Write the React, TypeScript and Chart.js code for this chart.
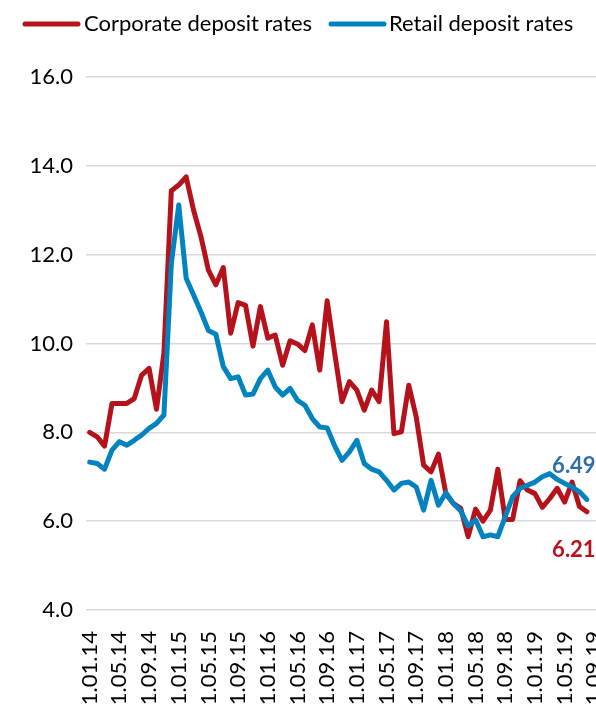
import React, { useEffect, useRef } from 'react';
import { Chart, registerables } from 'chart.js';

Chart.register(...registerables);

const categories = [
  '1.01.14', '1.02.14', '1.03.14', '1.04.14', '1.05.14', '1.06.14', '1.07.14', '1.08.14', '1.09.14', '1.10.14', '1.11.14', '1.12.14',
  '1.01.15', '1.02.15', '1.03.15', '1.04.15', '1.05.15', '1.06.15', '1.07.15', '1.08.15', '1.09.15', '1.10.15', '1.11.15', '1.12.15',
  '1.01.16', '1.02.16', '1.03.16', '1.04.16', '1.05.16', '1.06.16', '1.07.16', '1.08.16', '1.09.16', '1.10.16', '1.11.16', '1.12.16',
  '1.01.17', '1.02.17', '1.03.17', '1.04.17', '1.05.17', '1.06.17', '1.07.17', '1.08.17', '1.09.17', '1.10.17', '1.11.17', '1.12.17',
  '1.01.18', '1.02.18', '1.03.18', '1.04.18', '1.05.18', '1.06.18', '1.07.18', '1.08.18', '1.09.18', '1.10.18', '1.11.18', '1.12.18',
  '1.01.19', '1.02.19', '1.03.19', '1.04.19', '1.05.19', '1.06.19', '1.07.19', '1.08.19', '1.09.19',
];

const corporateRates = [
  8.0, 7.9, 7.69, 8.65, 8.65, 8.65, 8.76, 9.29, 9.44, 8.52,
  9.78, 13.44, 13.57, 13.75, 13.0, 12.4, 11.65, 11.32, 11.71, 10.23,
  10.92, 10.86, 9.94, 10.83, 10.12, 10.19, 9.51, 10.06, 9.99, 9.84,
  10.42, 9.4, 10.96, 9.8, 8.69, 9.14, 8.95, 8.5, 8.95, 8.69,
  10.49, 7.97, 8.01, 9.06, 8.35, 7.26, 7.11, 7.51, 6.62, 6.4,
  6.29, 5.65, 6.27, 6.0, 6.25, 7.17, 6.04, 6.04, 6.91, 6.7,
  6.62, 6.31, 6.51, 6.74, 6.43, 6.88, 6.33, 6.21, null,
];

const retailRates = [
  7.33, 7.3, 7.17, 7.6, 7.79, 7.71, 7.82, 7.94, 8.09, 8.2,
  8.39, 11.8, 13.12, 11.47, 11.09, 10.71, 10.29, 10.21, 9.48, 9.21,
  9.25, 8.84, 8.86, 9.21, 9.4, 9.02, 8.84, 8.99, 8.72, 8.61,
  8.31, 8.12, 8.1, 7.7, 7.37, 7.56, 7.82, 7.3, 7.17, 7.11,
  6.92, 6.7, 6.85, 6.88, 6.77, 6.25, 6.92, 6.36, 6.64, 6.4,
  6.23, 5.89, 6.03, 5.65, 5.69, 5.65, 6.1, 6.55, 6.74, 6.81,
  6.88, 7.0, 7.07, 6.94, 6.85, 6.77, 6.66, 6.49, null,
];

const seriesNames = ['Corporate deposit rates', 'Retail deposit rates'];
const yMin = 4;
const yMax = 16;
const yStep = 2;

const RED = '#B5121B';
const BLUE = '#0083BE';
const BLUE_LABEL = '#2E6EA6';
const FONT = 'Lato';

function lastIndex(arr: (number | null)[]) {
  for (let i = arr.length - 1; i >= 0; i--) if (arr[i] !== null) return i;
  return -1;
}

export default function App() {
  const ref = useRef<HTMLCanvasElement>(null);

  useEffect(() => {
    const canvas = ref.current!;

    const legendPlugin = {
      id: 'customLegend',
      afterDraw(chart: any) {
        const ctx = chart.ctx;
        ctx.save();
        ctx.font = `22px ${FONT}`;
        ctx.textBaseline = 'alphabetic';
        ctx.textAlign = 'left';
        ctx.lineCap = 'round';
        ctx.lineWidth = 5;
        const items = [
          { name: seriesNames[0], color: RED, x0: 25, x1: 78, tx: 84 },
          { name: seriesNames[1], color: BLUE, x0: 331, x1: 384, tx: 389 },
        ];
        const ly = 24;
        for (const it of items) {
          ctx.strokeStyle = it.color;
          ctx.beginPath();
          ctx.moveTo(it.x0, ly);
          ctx.lineTo(it.x1, ly);
          ctx.stroke();
          ctx.fillStyle = '#000';
          ctx.fillText(it.name, it.tx, 31);
        }
        ctx.restore();
      },
    };

    const endLabels = {
      id: 'endLabels',
      afterDatasetsDraw(chart: any) {
        const ctx = chart.ctx;
        const xs = chart.scales.x;
        const ys = chart.scales.y;
        ctx.save();
        ctx.font = `bold 22px ${FONT}`;
        ctx.textAlign = 'center';
        ctx.textBaseline = 'middle';
        const bi = lastIndex(retailRates);
        const bv = retailRates[bi] as number;
        ctx.fillStyle = BLUE_LABEL;
        ctx.fillText(bv.toFixed(2), xs.getPixelForValue(bi) - 13, ys.getPixelForValue(bv) - 33);
        const ri = lastIndex(corporateRates);
        const rv = corporateRates[ri] as number;
        ctx.fillStyle = RED;
        ctx.fillText(rv.toFixed(2), xs.getPixelForValue(ri) - 13, ys.getPixelForValue(rv) + 38);
        ctx.restore();
      },
    };

    const chart = new Chart(canvas, {
      type: 'line',
      data: {
        labels: categories,
        datasets: [
          {
            label: seriesNames[0],
            data: corporateRates,
            borderColor: RED,
            backgroundColor: RED,
            borderWidth: 5,
            pointRadius: 0,
            tension: 0,
            fill: false,
            borderJoinStyle: 'round',
            borderCapStyle: 'round',
            order: 1,
          },
          {
            label: seriesNames[1],
            data: retailRates,
            borderColor: BLUE,
            backgroundColor: BLUE,
            borderWidth: 5,
            pointRadius: 0,
            tension: 0,
            fill: false,
            borderJoinStyle: 'round',
            borderCapStyle: 'round',
            order: 0,
          },
        ],
      },
      options: {
        animation: false,
        responsive: false,
        devicePixelRatio: 1,
        layout: { padding: { top: 77, right: 2, left: 0, bottom: 0 } },
        plugins: {
          legend: { display: false },
          tooltip: { enabled: false },
        },
        scales: {
          x: {
            type: 'category',
            offset: true,
            grid: { display: false, drawTicks: false },
            border: { display: false },
            ticks: {
              autoSkip: false,
              maxRotation: 90,
              minRotation: 90,
              padding: 21,
              color: '#000',
              font: { family: FONT, size: 22 },
              callback: (_v: any, i: number) => (i % 4 === 0 ? categories[i] : ''),
            },
            afterFit: (s: any) => {
              s.height = 100;
              s.paddingLeft = 0;
              s.paddingRight = 0;
            },
          },
          y: {
            min: yMin,
            max: yMax,
            ticks: {
              stepSize: yStep,
              padding: 13,
              color: '#000',
              font: { family: FONT, size: 22 },
              callback: (v: any) => Number(v).toFixed(1),
            },
            grid: { color: '#D9D9D9', lineWidth: 1.5, drawTicks: false },
            border: { display: false },
            afterFit: (s: any) => {
              s.width = 86;
            },
          },
        },
      },
      plugins: [legendPlugin, endLabels],
    } as any);

    return () => chart.destroy();
  }, []);

  return (
    <div
      style={{
        position: 'fixed',
        left: 0,
        top: 0,
        width: 596,
        height: 710,
        overflow: 'hidden',
        background: '#fff',
      }}
    >
      <canvas ref={ref} width={600} height={710} style={{ display: 'block' }} />
    </div>
  );
}
